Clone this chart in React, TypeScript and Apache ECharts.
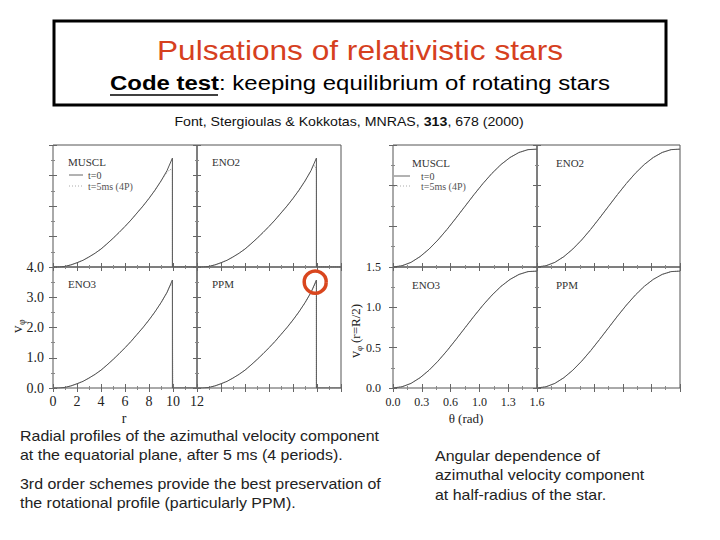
import React, { useEffect, useRef } from "react";
import * as echarts from "echarts";

// ---------- data ----------
const PANEL_NAMES = ["MUSCL", "ENO2", "ENO3", "PPM"];

// radial profile v_phi(r), t = 0
const R_BASE = [0, 0.5, 1, 1.5, 2, 2.5, 3, 3.5, 4, 4.5, 5, 5.5, 6, 6.5, 7, 7.5, 8, 8.5, 9, 9.5];
const V_T0 = [0, 0, 0.02, 0.07, 0.14, 0.22, 0.33, 0.45, 0.59, 0.76, 0.94, 1.13, 1.33, 1.54, 1.77, 2.0, 2.25, 2.52, 2.82, 3.16];
const R_EDGE = 9.95;
const V_PEAK = 3.57;
const R_MAX = 12;

// t = 5 ms tails (beyond r = 9), one per scheme
const T5_TAIL_R = {
  MUSCL: [9.3, 9.5, 9.7, 9.95, 9.95, 12],
  ENO2: [9.5, 9.7, 9.85, 9.95, 9.95, 12],
  ENO3: [9.5, 9.7, 9.95, 9.97, 10.0, 12],
  PPM: [9.5, 9.75, 9.95, 9.95, 12],
};
const T5_TAIL_V = {
  MUSCL: [3.0, 3.1, 3.18, 3.22, 0, 0],
  ENO2: [3.16, 3.34, 3.3, 3.15, 0, 0],
  ENO3: [3.16, 3.33, 3.47, 1.2, 0, 0],
  PPM: [3.16, 3.34, 3.53, 0, 0],
};

// angular profile v_phi(theta) at r = R/2
const THETA = [0, 0.1, 0.2, 0.3, 0.4, 0.5, 0.6, 0.7, 0.8, 0.9, 1.0, 1.1, 1.2, 1.3, 1.4, 1.5, 1.6];
const V_THETA = [0, 0.015, 0.057, 0.127, 0.22, 0.333, 0.462, 0.602, 0.746, 0.89, 1.027, 1.152, 1.26, 1.346, 1.408, 1.443, 1.449];

// tick labels
const LEFT_X_LABELS = ["0", "2", "4", "6", "8", "10", "12"];
const LEFT_Y_LABELS = ["0.0", "1.0", "2.0", "3.0", "4.0"];
const RIGHT_X_LABELS = ["0.0", "0.3", "0.6", "1.0", "1.3", "1.6"];
const RIGHT_Y_LABELS = ["0.0", "0.5", "1.0", "1.5"];

// ---------- layout ----------
const SERIF = "'Liberation Serif', 'DejaVu Serif', serif";
const SANS = "'Liberation Sans', Arial, sans-serif";
const LX = [53, 197, 341];
const RX = [393, 537, 680];
const YS = [145, 267, 388];
const STRETCH = 1.14;

function buildOption() {
  const grids: any[] = [];
  const xAxes: any[] = [];
  const yAxes: any[] = [];
  const series: any[] = [];
  const graphics: any[] = [];

  const mkAxis = (
    gridIndex: number,
    position: string,
    min: number,
    max: number,
    interval: number,
    showLabel: boolean,
    formatter: (v: number) => string,
    fontSize: number,
    margin: number
  ) => ({
    type: "value",
    gridIndex,
    position,
    min,
    max,
    interval,
    axisLine: { show: false },
    splitLine: { show: false },
    axisTick: { show: true, inside: true, length: 4, lineStyle: { color: "#666", width: 1 } },
    minorTick: { show: true, splitNumber: 2, length: 2, lineStyle: { color: "#888", width: 1 } },
    axisLabel: {
      show: showLabel,
      formatter,
      fontFamily: SERIF,
      fontSize,
      color: "#222",
      margin,
      showMinLabel: true,
      showMaxLabel: true,
    },
  });

  const sides = ["L", "R"];
  let gi = 0;
  sides.forEach((side) => {
    const xs = side === "L" ? LX : RX;
    for (let row = 0; row < 2; row++) {
      for (let col = 0; col < 2; col++) {
        const name = PANEL_NAMES[row * 2 + col];
        const left = xs[col];
        const top = YS[row];
        const width = xs[col + 1] - xs[col];
        const height = YS[row + 1] - YS[row];
        grids.push({
          left,
          top,
          width,
          height,
          show: true,
          borderColor: "#555",
          borderWidth: 1,
          backgroundColor: "transparent",
        });
        const labelled = row === 1 && col === 0;
        if (side === "L") {
          const fx = (v: number) => LEFT_X_LABELS[Math.round(v / 2)] ?? "";
          const fy = (v: number) => LEFT_Y_LABELS[Math.round(v)] ?? "";
          xAxes.push(mkAxis(gi, "bottom", 0, R_MAX, 2, labelled, fx, 14, 6));
          xAxes.push(mkAxis(gi, "top", 0, R_MAX, 2, false, fx, 14, 6));
          yAxes.push(mkAxis(gi, "left", 0, 4, 1, labelled, fy, 14, 9));
          yAxes.push(mkAxis(gi, "right", 0, 4, 1, false, fy, 14, 9));
          const t0 = R_BASE.map((r, k) => [r, V_T0[k]]).concat([
            [R_EDGE, V_PEAK],
            [R_EDGE, 0],
            [R_MAX, 0],
          ]);
          const base = R_BASE.map((r, k) => [r, V_T0[k]]).filter((p) => p[0] <= 9);
          const tr = (T5_TAIL_R as any)[name] as number[];
          const tv = (T5_TAIL_V as any)[name] as number[];
          const t5 = base.concat(tr.map((r, k) => [r, tv[k]]));
          series.push({
            type: "line",
            xAxisIndex: gi * 2,
            yAxisIndex: gi * 2,
            data: t5,
            showSymbol: false,
            symbol: "none",
            silent: true,
            lineStyle: { type: "dotted", width: 1, color: "#999" },
          });
          series.push({
            type: "line",
            xAxisIndex: gi * 2,
            yAxisIndex: gi * 2,
            data: t0,
            showSymbol: false,
            symbol: "none",
            silent: true,
            lineStyle: { width: 1, color: "#555" },
          });
          graphics.push({
            type: "text",
            x: left + 15,
            y: top + 17,
            style: { text: name, font: `11px ${SERIF}`, fill: "#333", textVerticalAlign: "middle" },
          });
        } else {
          const fx = (v: number) => RIGHT_X_LABELS[Math.round(v / 0.32)] ?? "";
          const fy = (v: number) => RIGHT_Y_LABELS[Math.round(v / 0.5)] ?? "";
          xAxes.push(mkAxis(gi, "bottom", 0, 1.6, 0.32, labelled, fx, 12, 8));
          xAxes.push(mkAxis(gi, "top", 0, 1.6, 0.32, false, fx, 12, 8));
          yAxes.push(mkAxis(gi, "left", 0, 1.5, 0.5, labelled, fy, 12, 12));
          yAxes.push(mkAxis(gi, "right", 0, 1.5, 0.5, false, fy, 12, 12));
          const d = THETA.map((t, k) => [t, V_THETA[k]]);
          series.push({
            type: "line",
            xAxisIndex: gi * 2,
            yAxisIndex: gi * 2,
            data: d,
            showSymbol: false,
            symbol: "none",
            silent: true,
            lineStyle: { type: "dotted", width: 1, color: "#999" },
          });
          series.push({
            type: "line",
            xAxisIndex: gi * 2,
            yAxisIndex: gi * 2,
            data: d,
            showSymbol: false,
            symbol: "none",
            silent: true,
            lineStyle: { width: 1, color: "#555" },
          });
          graphics.push({
            type: "text",
            x: left + 19,
            y: top + 18,
            style: { text: name, font: `11px ${SERIF}`, fill: "#333", textVerticalAlign: "middle" },
          });
        }
        gi++;
      }
    }
  });

  // legends in MUSCL panels
  const legend = (lx0: number, lx1: number, tx: number, y0: number, y1: number) => {
    graphics.push(
      { type: "line", shape: { x1: lx0, y1: y0, x2: lx1, y2: y0 }, style: { stroke: "#666", lineWidth: 1 } },
      { type: "line", shape: { x1: lx0, y1: y1, x2: lx1, y2: y1 }, style: { stroke: "#aaa", lineWidth: 1, lineDash: [1, 2] } },
      { type: "text", x: tx, y: y0, style: { text: "t=0", font: `10px ${SERIF}`, fill: "#444", textVerticalAlign: "middle" } },
      { type: "text", x: tx, y: y1, style: { text: "t=5ms (4P)", font: `10px ${SERIF}`, fill: "#555", textVerticalAlign: "middle" } }
    );
  };
  legend(69, 83, 88, 175, 186);
  legend(394, 410, 421, 176, 186);

  // title box
  graphics.push(
    { type: "rect", shape: { x: 54, y: 21, width: 612, height: 84 }, style: { fill: "#fff", stroke: "#000", lineWidth: 3 } },
    {
      type: "text",
      x: 360,
      y: 50,
      scaleX: 1.13,
      style: { text: "Pulsations of relativistic stars", font: `28px ${SANS}`, fill: "#d6401e", textAlign: "center", textVerticalAlign: "middle" },
    },
    {
      type: "text",
      x: 110,
      y: 83,
      scaleX: STRETCH,
      style: {
        text: "{b|Code test}: keeping equilibrium of rotating stars",
        font: `21px ${SANS}`,
        fill: "#000",
        textVerticalAlign: "middle",
        rich: { b: { font: `bold 21px ${SANS}`, fill: "#000" } },
      },
    },
    { type: "line", shape: { x1: 110, y1: 95, x2: 218, y2: 95 }, style: { stroke: "#000", lineWidth: 1.5 } },
    {
      type: "text",
      x: 349,
      y: 122,
      scaleX: 1.18,
      style: {
        text: "Font, Stergioulas & Kokkotas, MNRAS, {b|313}, 678 (2000)",
        font: `12px ${SANS}`,
        fill: "#111",
        textAlign: "center",
        textVerticalAlign: "middle",
        rich: { b: { font: `bold 12px ${SANS}`, fill: "#111" } },
      },
    }
  );

  // axis titles
  graphics.push(
    { type: "text", x: 124, y: 418, style: { text: "r", font: `14px ${SERIF}`, fill: "#222", textAlign: "center", textVerticalAlign: "middle" } },
    { type: "text", x: 466, y: 418, style: { text: "θ (rad)", font: `13px ${SERIF}`, fill: "#222", textAlign: "center", textVerticalAlign: "middle" } },
    {
      type: "group",
      x: 17,
      y: 333,
      rotation: Math.PI / 2,
      children: [
        { type: "text", x: 0, y: 0, style: { text: "v", font: `15px ${SERIF}`, fill: "#222", textVerticalAlign: "middle" } },
        { type: "text", x: 8, y: 4, style: { text: "φ", font: `10px ${SERIF}`, fill: "#222", textVerticalAlign: "middle" } },
      ],
    },
    {
      type: "group",
      x: 355,
      y: 358,
      rotation: Math.PI / 2,
      children: [
        { type: "text", x: 0, y: 0, style: { text: "v", font: `14px ${SERIF}`, fill: "#222", textVerticalAlign: "middle" } },
        { type: "text", x: 7, y: 4, style: { text: "φ", font: `9px ${SERIF}`, fill: "#222", textVerticalAlign: "middle" } },
        { type: "text", x: 15, y: 0, style: { text: "(r=R/2)", font: `13px ${SERIF}`, fill: "#222", textVerticalAlign: "middle" } },
      ],
    }
  );

  // captions
  const caption = (x: number, y: number, s: string) =>
    graphics.push({ type: "text", x, y, scaleX: STRETCH, style: { text: s, font: `14px ${SANS}`, fill: "#222", textVerticalAlign: "middle" } });
  caption(20, 436, "Radial profiles of the azimuthal velocity component");
  caption(20, 455, "at the equatorial plane, after 5 ms (4 periods).");
  caption(20, 484, "3rd order schemes provide the best preservation of");
  caption(20, 503, "the rotational profile (particularly PPM).");
  caption(435, 456, "Angular dependence of");
  caption(435, 475, "azimuthal velocity component");
  caption(435, 495, "at half-radius of the star.");

  return {
    animation: false,
    backgroundColor: "#fff",
    grid: grids,
    xAxis: xAxes,
    yAxis: yAxes,
    series,
    graphic: graphics,
  };
}

export default function App() {
  const ref = useRef<HTMLDivElement>(null);
  useEffect(() => {
    if (!ref.current) return;
    const chart = echarts.init(ref.current, null, { renderer: "svg" });
    const option: any = buildOption();
    chart.setOption(option);
    const p = chart.convertToPixel({ gridIndex: 3 }, [9.85, 3.5]) as number[];
    const circle = {
      type: "circle",
      shape: { cx: p[0], cy: p[1], r: 11 },
      style: { fill: "none", stroke: "#d9461e", lineWidth: 3.5 },
      z: 100,
    };
    chart.setOption({ ...option, graphic: option.graphic.concat([circle]) }, true);
    return () => chart.dispose();
  }, []);
  return (
    <div
      ref={ref}
      style={{ position: "absolute", left: 0, top: 0, width: 720, height: 540 }}
    />
  );
}
